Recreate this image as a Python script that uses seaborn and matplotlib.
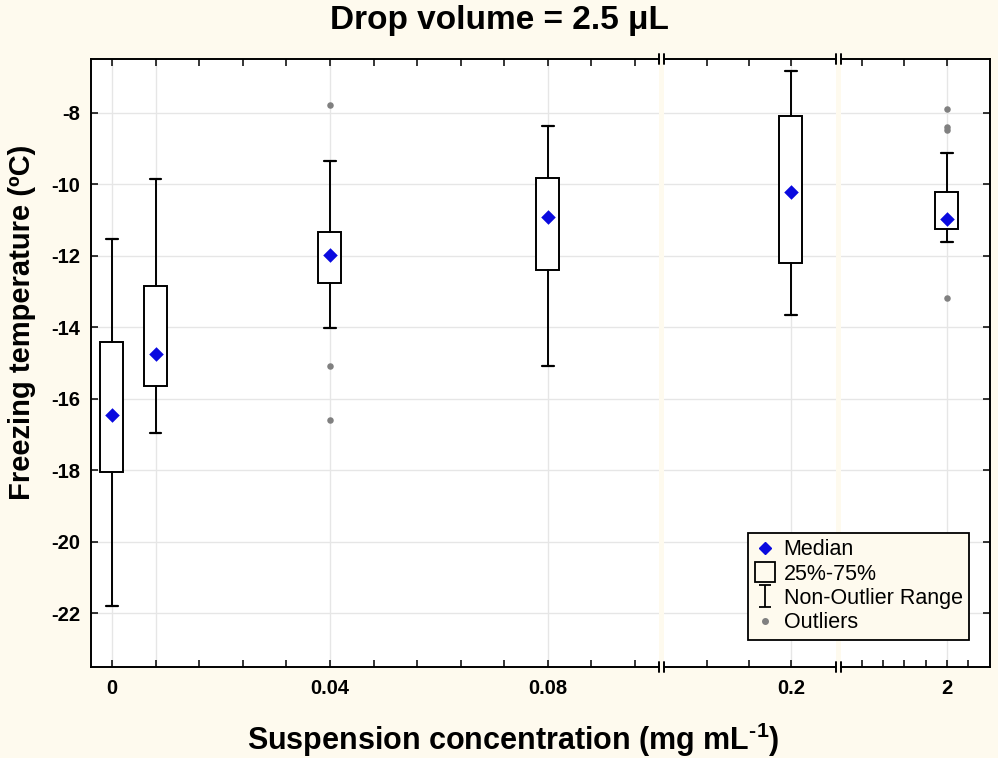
import matplotlib
matplotlib.use("Agg")
import matplotlib.pyplot as plt
from matplotlib.lines import Line2D
from matplotlib.path import Path
import seaborn as sns

# Freezing-temperature summary per suspension concentration (mg/mL)
concentration = [0, 0.008, 0.04, 0.08, 0.2, 2]
median = [-16.46, -14.74, -11.97, -10.91, -10.21, -10.96]
q1 = [-18.04, -15.63, -12.77, -12.40, -12.19, -11.26]
q3 = [-14.42, -12.86, -11.35, -9.83, -8.09, -10.21]
whisker_low = [-21.79, -16.96, -14.03, -15.07, -13.65, -11.63]
whisker_high = [-11.53, -9.86, -9.35, -8.37, -6.84, -9.13]
segment_of = [0, 0, 0, 0, 1, 2]

outlier_conc = [0.04, 0.04, 0.04, 2, 2, 2, 2]
outlier_temp = [-7.78, -15.09, -16.60, -7.89, -8.40, -8.49, -13.18]

y_ticks = [-8, -10, -12, -14, -16, -18, -20, -22]
y_limits = (-23.5, -6.5)

CREAM = "#fefaee"
BLUE = "#0a0adf"
GRAY = "#808080"
GRID = "#e6e6e6"

sns.set_theme(style="white")
plt.rcParams["font.family"] = ["Liberation Sans", "DejaVu Sans"]
plt.rcParams["font.weight"] = "bold"
plt.rcParams["text.color"] = "black"
plt.rcParams["axes.labelcolor"] = "black"
plt.rcParams["xtick.color"] = "black"
plt.rcParams["ytick.color"] = "black"
plt.rcParams["axes.unicode_minus"] = False
plt.rcParams["mathtext.fontset"] = "custom"
plt.rcParams["mathtext.rm"] = "Liberation Sans:bold"
plt.rcParams["mathtext.bf"] = "Liberation Sans:bold"
plt.rcParams["mathtext.default"] = "rm"

W, H = 998, 758
fig = plt.figure(figsize=(W / 100, H / 100), dpi=100, facecolor=CREAM)

TOP, BOTTOM = 59, 667


def rect(x0, x1):
    return [x0 / W, 1 - BOTTOM / H, (x1 - x0) / W, (BOTTOM - TOP) / H]


# broken x axis: three linear segments
segments = [
    dict(px=(91, 659), xlim=(-0.00385, 0.1004),
         major=[round(0.008 * i, 3) for i in range(13)], minor=[],
         labels={0: "0", 0.04: "0.04", 0.08: "0.08"}),
    dict(px=(664, 836), xlim=(0.0488, 0.2536),
         major=[0.1, 0.15, 0.2], minor=[],
         labels={0.2: "0.2"}),
    dict(px=(841, 990), xlim=(1.5023, 2.2019),
         major=[1.6, 1.8, 2.0], minor=[1.7, 1.9, 2.1],
         labels={2.0: "2"}),
]

box_px = 23
axes = []
for k, seg in enumerate(segments):
    ax = fig.add_axes(rect(*seg["px"]))
    axes.append(ax)
    ax.set_facecolor("white")
    ax.set_xlim(*seg["xlim"])
    ax.set_ylim(*y_limits)
    ax.set_axisbelow(True)

    px_per_unit = (seg["px"][1] - seg["px"][0]) / (seg["xlim"][1] - seg["xlim"][0])
    width = box_px / px_per_unit

    idx = [i for i, s in enumerate(segment_of) if s == k]
    stats = [dict(med=median[i], q1=q1[i], q3=q3[i],
                  whislo=whisker_low[i], whishi=whisker_high[i], fliers=[])
             for i in idx]
    pos = [concentration[i] for i in idx]

    for c in pos:
        ax.axvline(c, color=GRID, lw=1.0, zorder=0)
    for yv in y_ticks:
        ax.axhline(yv, color=GRID, lw=1.0, zorder=0)

    ax.bxp(stats, positions=pos, widths=[width] * len(pos),
           capwidths=[width * 0.5] * len(pos),
           showfliers=False, patch_artist=True, manage_ticks=False,
           boxprops=dict(facecolor="white", edgecolor="black", linewidth=1.4),
           whiskerprops=dict(color="black", linewidth=1.4),
           capprops=dict(color="black", linewidth=1.6),
           medianprops=dict(visible=False), zorder=3)

    sns.scatterplot(x=pos, y=[median[i] for i in idx], ax=ax, marker="D",
                    color=BLUE, edgecolor=BLUE, linewidth=0, s=55,
                    zorder=5, legend=False)

    o_idx = [j for j, c in enumerate(outlier_conc) if c in pos]
    if o_idx:
        sns.scatterplot(x=[outlier_conc[j] for j in o_idx],
                        y=[outlier_temp[j] for j in o_idx], ax=ax,
                        marker="o", color=GRAY, edgecolor=GRAY, linewidth=0,
                        s=22, zorder=5, legend=False)

    ax.set_xticks(seg["major"])
    ax.set_xticklabels([seg["labels"].get(t, "") for t in seg["major"]])
    if seg["minor"]:
        ax.set_xticks(seg["minor"], minor=True)
    ax.set_yticks(y_ticks)
    ax.set_yticklabels([str(v) for v in y_ticks])

    ax.tick_params(axis="x", which="major", direction="in", length=5, width=1.1,
                   top=True, bottom=True, labelsize=14.5, pad=9, colors="black")
    ax.tick_params(axis="x", which="minor", direction="in", length=5, width=1.1,
                   top=False, bottom=True)
    ax.tick_params(axis="y", direction="in", length=5, width=1.1,
                   left=(k == 0), right=(k == 2), labelleft=(k == 0),
                   labelsize=14.5, pad=8, colors="black")

    for name, sp in ax.spines.items():
        sp.set_color("black")
        sp.set_linewidth(1.4)
    ax.spines["left"].set_visible(k == 0)
    ax.spines["right"].set_visible(k == 2)

    # break marks at the inner ends of the top and bottom spines
    dy = 5 / (BOTTOM - TOP)
    ends = []
    if k > 0:
        ends.append(0)
    if k < 2:
        ends.append(1)
    for xe in ends:
        for ye in (0, 1):
            ax.plot([xe, xe], [ye - dy, ye + dy], transform=ax.transAxes,
                    color="black", lw=1.4, clip_on=False, zorder=6)

fig.text(0.5, 1 - 21 / H, "Drop volume = 2.5 \u03bcL", ha="center", va="center",
         fontsize=24, fontweight="bold", color="black")
fig.text(513 / W, 1 - 740 / H, r"Suspension concentration (mg mL$^{\text{-1}}$)",
         ha="center", va="center", fontsize=22, fontweight="bold", color="black")
fig.text(22 / W, 1 - 322 / H, "Freezing temperature (\u00baC)", ha="center",
         va="center", rotation=90, fontsize=21, fontweight="bold", color="black")

ibeam = Path([(-0.5, 1), (0.5, 1), (0, 1), (0, -1), (-0.5, -1), (0.5, -1)],
             [Path.MOVETO, Path.LINETO, Path.MOVETO, Path.LINETO,
              Path.MOVETO, Path.LINETO])
handles = [
    Line2D([], [], marker="D", color=BLUE, linestyle="none", markersize=6),
    Line2D([], [], marker="s", markerfacecolor="none", markeredgecolor="black",
           markeredgewidth=1.3, markersize=14, linestyle="none"),
    Line2D([], [], marker=ibeam, markerfacecolor="none", markeredgecolor="black",
           markeredgewidth=1.3, markersize=16, linestyle="none"),
    Line2D([], [], marker="o", color=GRAY, linestyle="none", markersize=4),
]
labels = ["Median", "25%-75%", "Non-Outlier Range", "Outliers"]
leg = fig.legend(handles, labels, loc="upper left",
                 bbox_to_anchor=(748 / W, 1 - 533 / H), borderaxespad=0,
                 frameon=True, fancybox=False, edgecolor="black",
                 facecolor=CREAM, framealpha=1,
                 prop=dict(family="Liberation Sans", size=15.5, weight="normal"),
                 handlelength=1.0, handletextpad=0.35, labelspacing=0.15,
                 borderpad=0.3)
leg.get_frame().set_linewidth(1.3)
for t in leg.get_texts():
    t.set_color("black")

fig.savefig("out.png", dpi=100, facecolor=CREAM)
